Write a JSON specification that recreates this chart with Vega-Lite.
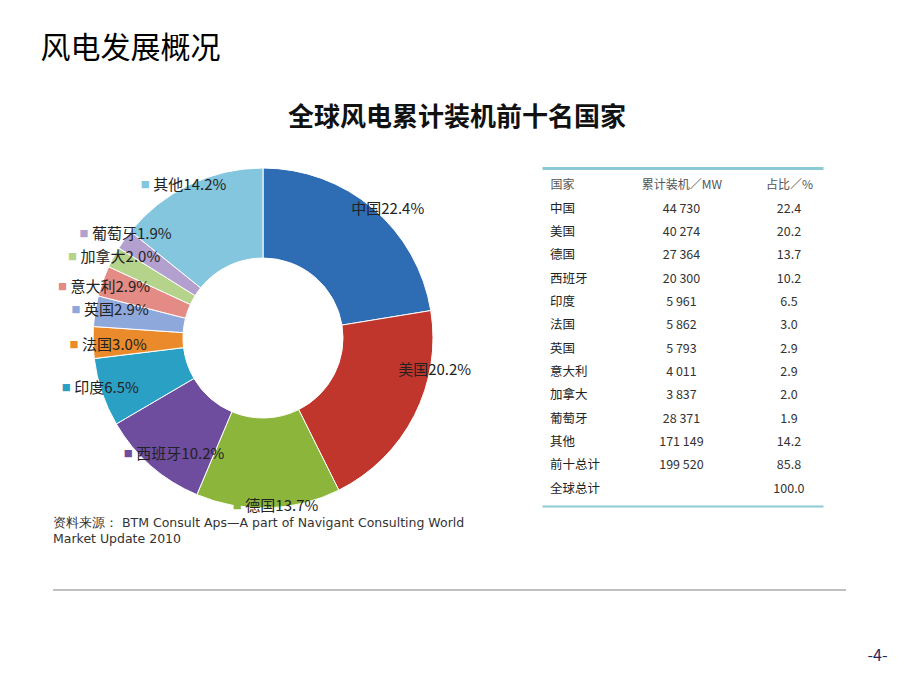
{
  "$schema": "https://vega.github.io/schema/vega-lite/v6.json",
  "background": "white",
  "padding": {"left": 40, "top": 34, "right": 20, "bottom": 10},
  "config": {
    "font": "Noto Sans CJK SC",
    "view": {"stroke": null},
    "locale": {"number": {"decimal": ".", "thousands": " ", "grouping": [3], "currency": ["", ""]}}
  },
  "title": {"text": "风电发展概况", "anchor": "start", "fontSize": 30, "fontWeight": "normal", "color": "#000000", "offset": 41, "dx": -12},
  "datasets": {
    "wind": [
      {"country": "中国", "mw": 44730, "pct": 22.4},
      {"country": "美国", "mw": 40274, "pct": 20.2},
      {"country": "德国", "mw": 27364, "pct": 13.7},
      {"country": "西班牙", "mw": 20300, "pct": 10.2},
      {"country": "印度", "mw": 5961, "pct": 6.5},
      {"country": "法国", "mw": 5862, "pct": 3.0},
      {"country": "英国", "mw": 5793, "pct": 2.9},
      {"country": "意大利", "mw": 4011, "pct": 2.9},
      {"country": "加拿大", "mw": 3837, "pct": 2.0},
      {"country": "葡萄牙", "mw": 28371, "pct": 1.9},
      {"country": "其他", "mw": 171149, "pct": 14.2},
      {"country": "前十总计", "mw": 199520, "pct": 85.8},
      {"country": "全球总计", "mw": null, "pct": 100.0}
    ]
  },
  "spacing": 43,
  "vconcat": [
    {
      "title": {"text": "全球风电累计装机前十名国家", "anchor": "middle", "fontSize": 26, "fontWeight": "bold", "color": "#111111", "offset": 35, "dx": 19},
      "bounds": "flush",
      "spacing": 69,
      "hconcat": [
        {
          "width": 420,
          "height": 340,
          "data": {"name": "wind"},
          "title": {"text": ["资料来源：  BTM Consult Aps—A part of Navigant Consulting World", "Market Update 2010"], "orient": "bottom", "anchor": "start", "font": "DejaVu Sans", "fontSize": 12.5, "fontWeight": "normal", "color": "#333333", "offset": 3, "lineHeight": 16},
          "resolve": {"scale": {"theta": "independent"}},
          "transform": [
            {"filter": "datum.country != '前十总计' && datum.country != '全球总计'"},
            {"window": [{"op": "row_number", "as": "idx"}]},
            {"stack": "pct", "groupby": [], "sort": [{"field": "idx", "order": "ascending"}], "offset": "normalize", "as": ["t0", "t1"]},
            {"calculate": "(datum.t0 + datum.t1) / 2", "as": "mid"},
            {"calculate": "datum.country + format(datum.pct, '.1f') + '%'", "as": "label"}
          ],
          "encoding": {
            "color": {
              "field": "country",
              "type": "nominal",
              "scale": {
                "domain": ["中国", "美国", "德国", "西班牙", "印度", "法国", "英国", "意大利", "加拿大", "葡萄牙", "其他"],
                "range": ["#2e6cb3", "#c0352c", "#8cb63b", "#6e4c9e", "#2aa0c4", "#eb8a2a", "#8fa8dc", "#e38b84", "#b5d38a", "#b3a0cf", "#84c6de"]
              },
              "legend": null
            }
          },
          "layer": [
            {
              "mark": {"type": "arc", "outerRadius": 170, "innerRadius": 80, "stroke": "#ffffff", "strokeWidth": 1},
              "encoding": {
                "theta": {"field": "t0", "type": "quantitative", "scale": {"domain": [0, 1]}},
                "theta2": {"field": "t1"}
              }
            },
            {
              "transform": [{"filter": "datum.country == '中国'"}],
              "encoding": {"theta": {"field": "mid", "type": "quantitative", "scale": {"domain": [0, 1], "range": [-0.148, 6.135]}}},
              "layer": [
                {"mark": {"type": "text", "radius": 152, "text": "■", "fontSize": 9, "baseline": "middle"}},
                {"mark": {"type": "text", "radius": 152, "align": "left", "baseline": "middle", "dx": 8, "fontSize": 15}, "encoding": {"text": {"field": "label"}, "color": {"value": "#222222"}}}
              ]
            },
            {
              "transform": [{"filter": "datum.country == '美国'"}],
              "encoding": {"theta": {"field": "mid", "type": "quantitative", "scale": {"domain": [0, 1], "range": [-0.230, 6.053]}}},
              "layer": [
                {"mark": {"type": "text", "radius": 131, "text": "■", "fontSize": 9, "baseline": "middle"}},
                {"mark": {"type": "text", "radius": 131, "align": "left", "baseline": "middle", "dx": 8, "fontSize": 15}, "encoding": {"text": {"field": "label"}, "color": {"value": "#222222"}}}
              ]
            },
            {
              "transform": [{"filter": "datum.country == '德国'"}],
              "encoding": {"theta": {"field": "mid", "type": "quantitative", "scale": {"domain": [0, 1], "range": [0.183, 6.466]}}},
              "layer": [
                {"mark": {"type": "text", "radius": 170, "text": "■", "fontSize": 9, "baseline": "middle"}},
                {"mark": {"type": "text", "radius": 170, "align": "left", "baseline": "middle", "dx": 8, "fontSize": 15}, "encoding": {"text": {"field": "label"}, "color": {"value": "#222222"}}}
              ]
            },
            {
              "transform": [{"filter": "datum.country == '西班牙'"}],
              "encoding": {"theta": {"field": "mid", "type": "quantitative", "scale": {"domain": [0, 1], "range": [0.138, 6.421]}}},
              "layer": [
                {"mark": {"type": "text", "radius": 178, "text": "■", "fontSize": 9, "baseline": "middle"}},
                {"mark": {"type": "text", "radius": 178, "align": "left", "baseline": "middle", "dx": 8, "fontSize": 15}, "encoding": {"text": {"field": "label"}, "color": {"value": "#222222"}}}
              ]
            },
            {
              "transform": [{"filter": "datum.country == '印度'"}],
              "encoding": {"theta": {"field": "mid", "type": "quantitative", "scale": {"domain": [0, 1], "range": [0.077, 6.360]}}},
              "layer": [
                {"mark": {"type": "text", "radius": 203, "text": "■", "fontSize": 9, "baseline": "middle"}},
                {"mark": {"type": "text", "radius": 203, "align": "left", "baseline": "middle", "dx": 8, "fontSize": 15}, "encoding": {"text": {"field": "label"}, "color": {"value": "#222222"}}}
              ]
            },
            {
              "transform": [{"filter": "datum.country == '法国' || datum.country == '英国'"}],
              "encoding": {"theta": {"field": "mid", "type": "quantitative", "scale": {"domain": [0, 1], "range": [-0.009, 6.274]}}},
              "layer": [
                {"mark": {"type": "text", "radius": 189, "text": "■", "fontSize": 9, "baseline": "middle"}},
                {"mark": {"type": "text", "radius": 189, "align": "left", "baseline": "middle", "dx": 8, "fontSize": 15}, "encoding": {"text": {"field": "label"}, "color": {"value": "#222222"}}}
              ]
            },
            {
              "transform": [{"filter": "datum.country == '意大利' || datum.country == '加拿大' || datum.country == '葡萄牙'"}],
              "encoding": {"theta": {"field": "mid", "type": "quantitative", "scale": {"domain": [0, 1], "range": [-0.0925, 6.191]}}},
              "layer": [
                {"mark": {"type": "text", "radius": 207, "text": "■", "fontSize": 9, "baseline": "middle"}},
                {"mark": {"type": "text", "radius": 207, "align": "left", "baseline": "middle", "dx": 8, "fontSize": 15}, "encoding": {"text": {"field": "label"}, "color": {"value": "#222222"}}}
              ]
            },
            {
              "transform": [{"filter": "datum.country == '其他'"}],
              "encoding": {"theta": {"field": "mid", "type": "quantitative", "scale": {"domain": [0, 1], "range": [-0.209, 6.074]}}},
              "layer": [
                {"mark": {"type": "text", "radius": 193, "text": "■", "fontSize": 9, "baseline": "middle"}},
                {"mark": {"type": "text", "radius": 193, "align": "left", "baseline": "middle", "dx": 8, "fontSize": 15}, "encoding": {"text": {"field": "label"}, "color": {"value": "#222222"}}}
              ]
            }
          ]
        },
        {
          "width": 281,
          "height": 338,
          "data": {"name": "wind"},
          "resolve": {"scale": {"y": "independent"}, "axis": {"y": "independent"}},
          "layer": [
            {
              "mark": {"type": "rule", "opacity": 0},
              "encoding": {
                "y": {"datum": 0, "type": "quantitative", "scale": {"domain": [0, 1]},
                  "axis": {"values": [0, 1], "grid": true, "gridColor": "#8ccbd5", "gridWidth": {"condition": {"test": "datum.value == 1", "value": 3}, "value": 2}, "labels": false, "ticks": false, "domain": false, "title": null}}
              }
            },
            {
              "mark": {"type": "text", "align": "left", "baseline": "middle", "fontSize": 12.5, "color": "#222222"},
              "encoding": {
                "x": {"datum": "国家", "type": "nominal",
                  "scale": {"type": "point", "domain": ["国家", "累计装机／MW", "占比／%"], "padding": 0.176, "align": 0.19},
                  "axis": {"orient": "top", "title": null, "domain": false, "ticks": false, "tickSize": 0, "grid": false, "labelPadding": -16, "labelBaseline": "middle", "labelFontSize": 12, "labelColor": "#555555", "labelAngle": 0,
                    "labelAlign": {"condition": {"test": "datum.value == '国家'", "value": "left"}, "value": "center"},
                    "labelOffset": {"condition": {"test": "datum.value == '累计装机／MW'", "value": 12}, "value": 0}}},
                "y": {"field": "country", "type": "nominal", "scale": {"type": "point", "domain": ["国家", "中国", "美国", "德国", "西班牙", "印度", "法国", "英国", "意大利", "加拿大", "葡萄牙", "其他", "前十总计", "全球总计"], "padding": 0.75, "align": 0.5}, "axis": null},
                "text": {"field": "country"}
              }
            },
            {
              "transform": [{"filter": {"field": "mw", "valid": true}}],
              "mark": {"type": "text", "align": "center", "baseline": "middle", "fontSize": 12.5, "color": "#333333", "dx": 12},
              "encoding": {
                "x": {"datum": "累计装机／MW", "type": "nominal"},
                "y": {"field": "country", "type": "nominal", "scale": {"type": "point", "domain": ["国家", "中国", "美国", "德国", "西班牙", "印度", "法国", "英国", "意大利", "加拿大", "葡萄牙", "其他", "前十总计", "全球总计"], "padding": 0.75, "align": 0.5}, "axis": null},
                "text": {"field": "mw", "type": "quantitative", "format": ",d"}
              }
            },
            {
              "mark": {"type": "text", "align": "center", "baseline": "middle", "fontSize": 12.5, "color": "#333333"},
              "encoding": {
                "x": {"datum": "占比／%", "type": "nominal"},
                "y": {"field": "country", "type": "nominal", "scale": {"type": "point", "domain": ["国家", "中国", "美国", "德国", "西班牙", "印度", "法国", "英国", "意大利", "加拿大", "葡萄牙", "其他", "前十总计", "全球总计"], "padding": 0.75, "align": 0.5}, "axis": null},
                "text": {"field": "pct", "type": "quantitative", "format": ".1f"}
              }
            }
          ]
        }
      ]
    },
    {
      "width": 793,
      "height": 2,
      "data": {"values": [{}]},
      "title": {"text": "-4-", "orient": "bottom", "anchor": "end", "dx": 41, "offset": 57, "fontSize": 16, "fontWeight": "normal", "color": "#1f2a5c"},
      "mark": {"type": "rule", "color": "#808080", "strokeWidth": 1},
      "encoding": {"y": {"datum": 0.5, "type": "quantitative", "scale": {"domain": [0, 1]}, "axis": null}}
    }
  ]
}
